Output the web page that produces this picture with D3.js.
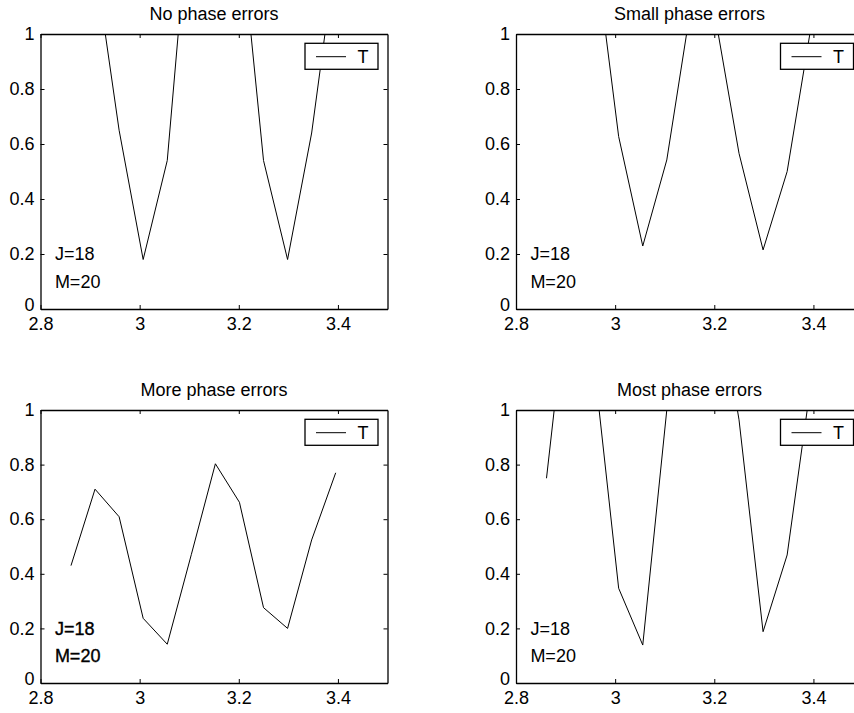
<!DOCTYPE html>
<html>
<head>
<meta charset="utf-8">
<script src="https://cdn.jsdelivr.net/npm/d3@7"></script>
<style>
  body { margin: 0; background: #fff; }
  svg { display: block; font-family: "Liberation Sans", Arial, Helvetica, sans-serif; }
  .axis path, .axis line { stroke: #000; }
  .axis text { fill: #000; font-size: 18px; }
</style>
</head>
<body>
<svg id="chart" width="854" height="713"></svg>
<script>
// shared sample positions (x)
var xs = [2.8615, 2.9100, 2.9586, 3.0071, 3.0557, 3.1042, 3.1528, 3.2013, 3.2499, 3.2984, 3.3470, 3.3955];

// T values per panel (values above 1 are clipped by the axes)
var noPhase    = [1.62, 1.26, 0.65, 0.18, 0.54, 1.55, 1.85, 1.42, 0.54, 0.18, 0.64, 1.29];
var smallPhase = [1.50, 1.70, 1.32, 0.627, 0.229, 0.542, 1.10, 1.07, 0.566, 0.215, 0.50, 1.03];
var morePhase  = [0.43, 0.71, 0.609, 0.237, 0.142, 0.47, 0.803, 0.662, 0.276, 0.20, 0.524, 0.77];
var mostPhase  = [0.75, 1.53, 1.15, 0.347, 0.139, 1.00, 1.40, 1.50, 0.964, 0.188, 0.469, 1.106];

var titles = ["No phase errors", "Small phase errors", "More phase errors", "Most phase errors"];
var xTicks = [2.8, 3, 3.2, 3.4];
var yTicks = [0, 0.2, 0.4, 0.6, 0.8, 1];
var notes = ["J=18", "M=20"];
var legendLabel = "T";

var panels = [
  {title: titles[0], values: noPhase,    left: 40.5, top: 34,  height: 275, bold: false},
  {title: titles[1], values: smallPhase, left: 516,  top: 34,  height: 275, bold: false},
  {title: titles[2], values: morePhase,  left: 40.5, top: 410, height: 273, bold: true},
  {title: titles[3], values: mostPhase,  left: 516,  top: 410, height: 273, bold: false}
];

var svg = d3.select('#chart');
var width = 347;

function drawPanel(p, idx){
  var g = svg.append("g").attr("transform", "translate(" + p.left + "," + p.top + ")");

  var x = d3.scaleLinear().domain([2.8, 3.5]).range([0, width]);
  var y = d3.scaleLinear().domain([0, 1]).range([p.height, 0]);

  g.append("clipPath").attr("id", "clip" + idx)
    .append("rect").attr("width", width).attr("height", p.height);

  // title
  g.append("text")
    .attr("x", width / 2).attr("y", -14)
    .attr("text-anchor", "middle")
    .attr("font-size", 18)
    .text(p.title);

  // axes, ticks inward on all four sides
  g.append("g").attr("class", "axis")
    .attr("transform", "translate(0," + p.height + ")")
    .call(d3.axisBottom(x).tickValues(xTicks).tickSizeInner(-4).tickSizeOuter(0).tickPadding(8)
      .tickFormat(d3.format("")))
    .call(function(a){ a.select(".domain").attr("stroke-width", 1.3); });
  g.append("g").attr("class", "axis")
    .call(d3.axisTop(x).tickValues(xTicks).tickSizeInner(-4).tickSizeOuter(0).tickFormat(""))
    .call(function(a){ a.select(".domain").attr("stroke-width", 1.3); });
  g.append("g").attr("class", "axis")
    .call(d3.axisLeft(y).tickValues(yTicks).tickSizeInner(-4).tickSizeOuter(0).tickPadding(6)
      .tickFormat(d3.format("")))
    .call(function(a){
      a.select(".domain").attr("stroke-width", 1.3);
      // keep the "0" label clear of the x tick labels below it
      a.selectAll(".tick text").filter(function(d){ return d === 0; }).attr("dy", "0.1em");
    });
  g.append("g").attr("class", "axis")
    .attr("transform", "translate(" + width + ",0)")
    .call(d3.axisRight(y).tickValues(yTicks).tickSizeInner(-4).tickSizeOuter(0).tickFormat(""))
    .call(function(a){ a.select(".domain").attr("stroke-width", 1.3); });

  // data line
  var line = d3.line()
    .x(function(d, i){ return x(xs[i]); })
    .y(function(d){ return y(d); });

  g.append("path")
    .datum(p.values)
    .attr("clip-path", "url(#clip" + idx + ")")
    .attr("fill", "none")
    .attr("stroke", "#000")
    .attr("stroke-width", 1)
    .attr("d", line);

  // annotations in data coordinates
  g.selectAll(".note")
    .data(notes)
    .enter().append("text")
    .attr("class", "note")
    .attr("x", x(2.829))
    .attr("y", function(d, i){ return y(0.2 - 0.1 * i); })
    .attr("dy", "0.36em")
    .attr("font-size", 18)
    .attr("stroke", p.bold ? "#000" : "none")
    .attr("stroke-width", p.bold ? 0.35 : 0)
    .text(function(d){ return d; });

  // legend
  var lg = g.append("g").attr("transform", "translate(" + 264.5 + "," + 9.3 + ")");
  lg.append("rect")
    .attr("width", 73).attr("height", 26)
    .attr("fill", "#fff").attr("stroke", "#000").attr("stroke-width", 1.3);
  lg.append("line")
    .attr("x1", 11).attr("x2", 41).attr("y1", 13.4).attr("y2", 13.4)
    .attr("stroke", "#000").attr("stroke-width", 1);
  lg.append("text")
    .attr("x", 58).attr("y", 19.8)
    .attr("text-anchor", "middle")
    .attr("font-size", 18)
    .text(legendLabel);
}

panels.forEach(drawPanel);
</script>
</body>
</html>
